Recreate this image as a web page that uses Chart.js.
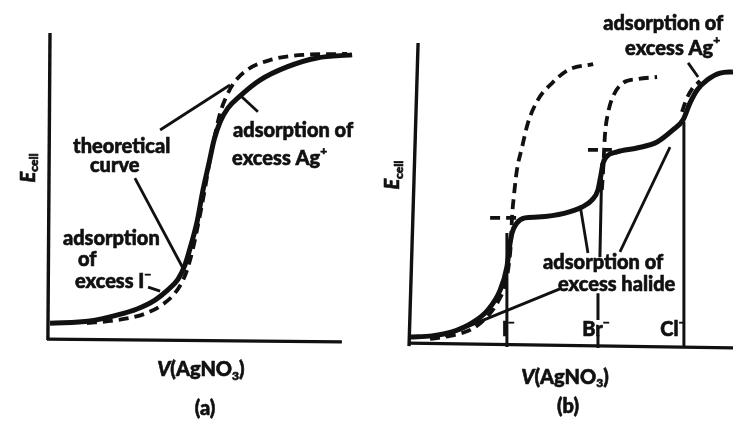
<!DOCTYPE html>
<html>
<head>
<meta charset="utf-8">
<script src="https://cdn.jsdelivr.net/npm/chart.js@4.4.1/dist/chart.umd.min.js"></script>
<style>
  html, body { margin: 0; padding: 0; background: #fff; }
  #wrap { position: relative; width: 733px; height: 422px; overflow: hidden; }
  #chartA { position: absolute; left: 0; top: 0; }
  #chartB { position: absolute; left: 370px; top: 0; }
</style>
</head>
<body>
<div id="wrap">
  <canvas id="chartA" width="370" height="422"></canvas>
  <canvas id="chartB" width="363" height="422"></canvas>
</div>
<script>
// (a) iodide titrated with AgNO3: observed curve vs theoretical curve
const aObsV  = [0, 1.33, 2.23, 2.9, 3.5, 3.93, 4.27, 4.5, 4.7, 4.9, 5.1, 5.3, 5.47, 5.67, 5.93, 6.33, 7.0, 7.9, 8.9, 10.07];
const aObsE  = [0.58, 0.65, 0.84, 1.04, 1.33, 1.66, 2.01, 2.47, 3.12, 3.86, 4.9, 5.78, 6.53, 7.11, 7.56, 7.95, 8.47, 8.9, 9.19, 9.29];
const aTheoV = [1.23, 2.0, 2.67, 3.23, 3.73, 4.17, 4.47, 4.67, 4.83, 5.0, 5.17, 5.33, 5.5, 5.67, 5.87, 6.13, 6.57, 7.33, 8.43, 9.9];
const aTheoE = [0.58, 0.65, 0.75, 0.91, 1.17, 1.56, 2.05, 2.63, 3.28, 4.09, 4.97, 5.88, 6.69, 7.4, 7.92, 8.38, 8.8, 9.12, 9.29, 9.32];

// (b) mixture of I-, Br-, Cl- titrated with AgNO3
const bObsV = [0, 0.68, 1.3, 1.92, 2.41, 2.79, 3.0, 3.1, 3.16, 3.31, 3.56, 3.96, 4.8, 5.33, 5.63, 5.82, 5.91, 5.98, 6.07, 6.41, 7.03, 7.65, 8.14, 8.45, 8.67, 8.89, 9.2, 9.6, 10.0];
const bObsE = [0.23, 0.27, 0.4, 0.7, 1.13, 1.79, 2.56, 3.36, 3.69, 4.02, 4.19, 4.22, 4.35, 4.55, 4.78, 5.12, 5.61, 6.01, 6.21, 6.38, 6.51, 6.71, 7.11, 7.44, 8.01, 8.44, 8.77, 9.0, 9.04];
const bIodideV = [0.62, 1.24, 1.92, 2.41, 2.72, 2.94, 3.07, 3.13, 3.16, 3.22, 3.31, 3.47, 3.65, 3.96, 4.4, 4.89, 5.67];
const bIodideE = [0.17, 0.27, 0.5, 0.93, 1.4, 1.96, 2.72, 3.46, 4.22, 4.95, 5.78, 6.54, 7.34, 8.11, 8.67, 9.1, 9.3];
const bBromideV = [5.94, 5.98, 6.01, 6.04, 6.13, 6.28, 6.59, 7.03, 7.65];
const bBromideE = [5.12, 5.78, 6.45, 7.01, 7.67, 8.21, 8.67, 8.8, 8.87];
const bChlorideV = [8.42, 8.55, 8.73, 8.98];
const bChlorideE = [7.71, 8.11, 8.47, 8.74];
const bPlateauI  = { v: [2.48, 3.53], e: [4.19, 4.19] };
const bPlateauBr = { v: [5.51, 6.25], e: [6.45, 6.45] };
const bEquivI  = { v: [3.0, 3.0], e: [3.69, -0.1] };
const bEquivBr = [{ v: [5.94, 5.88], e: [6.01, 2.89] }, { v: [5.82, 5.82], e: [1.69, 0.8] }, { v: [5.82, 5.82], e: [0.3, -0.13] }];
const bEquivCl = { v: [8.48, 8.48], e: [7.38, -0.13] };

const FONT = 'Lato, "Open Sans", sans-serif';
const INK = '#111';

function pts(xs, ys) {
  return xs.map((x, i) => ({ x: x, y: ys[i] }));
}

function curve(xs, ys, dashed) {
  return {
    data: pts(xs, ys),
    showLine: true,
    borderColor: INK,
    borderWidth: dashed ? 3.8 : 5,
    borderDash: dashed ? [10, 6] : [],
    borderCapStyle: 'butt',
    cubicInterpolationMode: 'monotone',
    pointRadius: 0,
    clip: false
  };
}

function stroke(xs, ys, width, dash) {
  return {
    data: pts(xs, ys),
    showLine: true,
    borderColor: INK,
    borderWidth: width,
    borderDash: dash || [],
    tension: 0,
    pointRadius: 0,
    clip: false
  };
}

// rich text: runs may be italic, subscript or superscript
function drawRuns(ctx, runs, x, y, align, size) {
  const pieces = runs.map(r => {
    const s = (r.sub || r.sup) ? Math.round(size * 0.62) : size;
    const font = (r.italic ? 'italic ' : '') + '900 ' + s + 'px ' + FONT;
    ctx.font = font;
    return { t: r.t, font: font, w: ctx.measureText(r.t).width, dy: r.sub ? size * 0.3 : r.sup ? -size * 0.38 : 0 };
  });
  const total = pieces.reduce((s, p) => s + p.w, 0);
  let cx = align === 'center' ? x - total / 2 : x;
  pieces.forEach(p => {
    ctx.font = p.font;
    ctx.fillText(p.t, cx, y + p.dy);
    ctx.strokeText(p.t, cx, y + p.dy);
    cx += p.w;
  });
}

function notesPlugin(notes) {
  return {
    id: 'notes',
    afterDatasetsDraw(chart) {
      const ctx = chart.ctx;
      const xs = chart.scales.x, ys = chart.scales.y;
      ctx.save();
      ctx.fillStyle = INK;
      ctx.strokeStyle = INK;
      ctx.lineWidth = 0.6;
      ctx.textBaseline = 'middle';
      ctx.textAlign = 'left';
      notes.forEach(n => {
        const px = xs.getPixelForValue(n.x);
        const py = ys.getPixelForValue(n.y);
        if (n.rotate) {
          ctx.save();
          ctx.translate(px, py);
          ctx.rotate(-Math.PI / 2);
          drawRuns(ctx, n.runs, 0, 0, 'center', n.size || 20);
          ctx.restore();
        } else {
          drawRuns(ctx, n.runs, px, py, n.align || 'left', n.size || 20);
        }
      });
      ctx.restore();
    }
  };
}

const ecell = [{ t: 'E', italic: true }, { t: 'cell', sub: true }];
const vAgNO3 = [{ t: 'V', italic: true }, { t: '(AgNO' }, { t: '3', sub: true }, { t: ')' }];

function baseOptions(padding, xMax) {
  return {
    responsive: false,
    animation: false,
    layout: { padding: padding },
    plugins: { legend: { display: false }, tooltip: { enabled: false } },
    scales: {
      x: { type: 'linear', min: 0, max: xMax, display: false },
      y: { type: 'linear', min: 0, max: 10, display: false }
    }
  };
}

new Chart(document.getElementById('chartA'), {
  type: 'scatter',
  data: {
    datasets: [
      stroke([0, -0.07], [10, 0.03], 3.4),
      stroke([-0.1, 9.73], [0.06, -0.03], 3.4),
      curve(aObsV, aObsE, false),
      curve(aTheoV, aTheoE, true),
      stroke([3.67, 6.0], [6.85, 8.31], 2.8),
      stroke([2.83, 4.43], [5.29, 2.37], 2.8),
      stroke([6.93, 6.4], [7.44, 7.92], 2.8),
      stroke([3.27, 3.67], [1.75, 1.62], 2.8)
    ]
  },
  options: baseOptions({ left: 50, right: 14, top: 33, bottom: 81 }, 10.2),
  plugins: [notesPlugin([
    { x: 0.77, y: 6.3, runs: [{ t: 'theoretical' }] },
    { x: 1.33, y: 5.71, runs: [{ t: 'curve' }] },
    { x: 6.1, y: 6.82, runs: [{ t: 'adsorption of' }] },
    { x: 6.07, y: 5.91, runs: [{ t: 'excess Ag' }, { t: '+', sup: true }] },
    { x: 0.43, y: 3.34, runs: [{ t: 'adsorption' }] },
    { x: 0.93, y: 2.63, runs: [{ t: 'of' }] },
    { x: 0.83, y: 1.92, runs: [{ t: 'excess I' }, { t: '\u2212', sup: true }] },
    { x: 5.03, y: -0.94, runs: vAgNO3, align: 'center' },
    { x: 5.17, y: -2.18, runs: [{ t: '(a)' }], align: 'center' },
    { x: -0.73, y: 5.62, runs: ecell, rotate: true }
  ])]
});

new Chart(document.getElementById('chartB'), {
  type: 'scatter',
  data: {
    datasets: [
      stroke([-0.03, 0.25], [-0.07, 10], 3.4),
      stroke([-0.06, 10.0], [0.03, -0.13], 3.4),
      stroke(bEquivI.v, bEquivI.e, 3),
      ...bEquivBr.map(s => stroke(s.v, s.e, 3)),
      stroke(bEquivCl.v, bEquivCl.e, 3),
      curve(bObsV, bObsE, false),
      curve(bIodideV, bIodideE, true),
      curve(bBromideV, bBromideE, true),
      curve(bChlorideV, bChlorideE, true),
      stroke(bPlateauI.v, bPlateauI.e, 3.8, [10, 6]),
      stroke(bPlateauBr.v, bPlateauBr.e, 3.8, [10, 6]),
      stroke([5.51, 5.29], [3.02, 4.45], 2.8),
      stroke([6.5, 8.05], [3.06, 6.54], 2.8),
      stroke([4.64, 1.08], [1.83, 0.27], 2.8),
      stroke([8.61, 8.92], [9.34, 8.87], 2.8)
    ]
  },
  options: baseOptions({ left: 40, right: 0, top: 43, bottom: 78 }, 10),
  plugins: [notesPlugin([
    { x: 4.12, y: 2.69, runs: [{ t: 'adsorption of' }] },
    { x: 4.58, y: 1.96, runs: [{ t: 'excess halide' }] },
    { x: 5.98, y: 10.66, runs: [{ t: 'adsorption of' }] },
    { x: 6.66, y: 9.83, runs: [{ t: 'excess Ag' }, { t: '+', sup: true }] },
    { x: 2.84, y: 0.47, runs: [{ t: 'I' }, { t: '\u2212', sup: true }] },
    { x: 5.33, y: 0.47, runs: [{ t: 'Br' }, { t: '\u2212', sup: true }] },
    { x: 7.75, y: 0.47, runs: [{ t: 'Cl' }, { t: '\u2212', sup: true }] },
    { x: 4.8, y: -1.1, runs: vAgNO3, align: 'center' },
    { x: 4.89, y: -2.09, runs: [{ t: '(b)' }], align: 'center' },
    { x: -0.53, y: 5.61, runs: ecell, rotate: true }
  ])]
});
</script>
</body>
</html>
